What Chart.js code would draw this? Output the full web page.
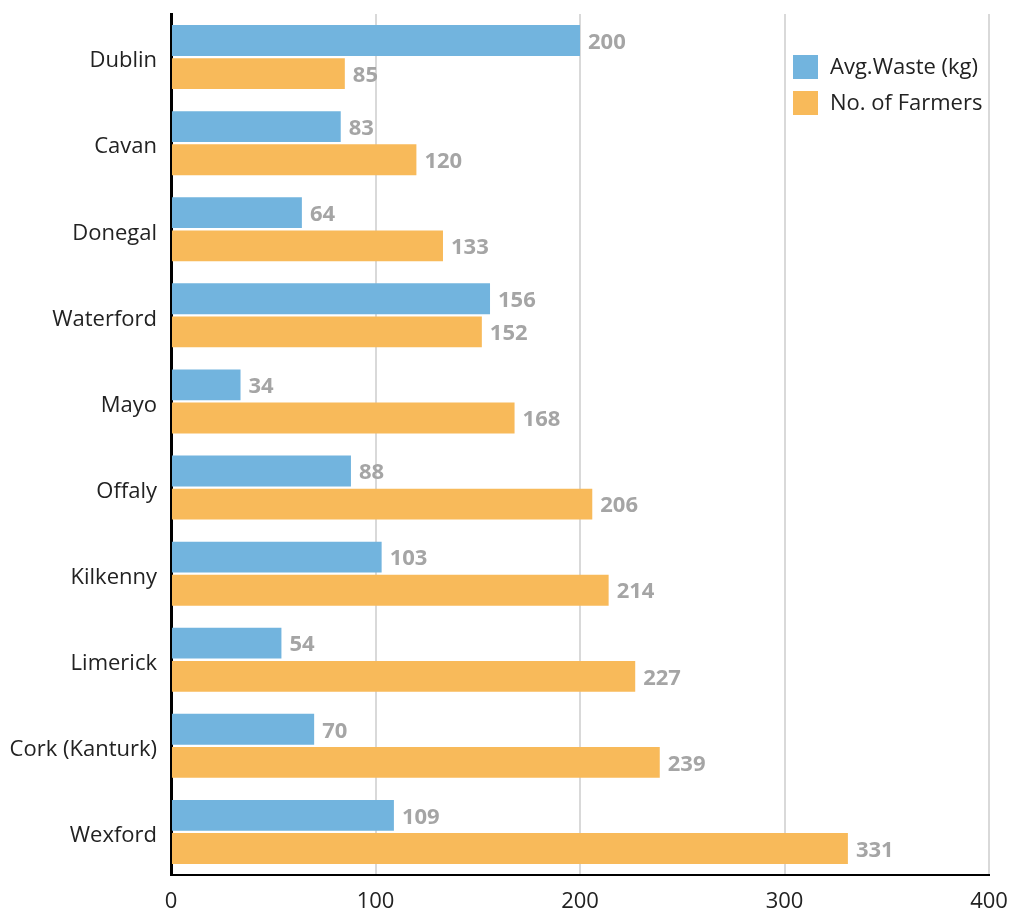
<!DOCTYPE html>
<html>
<head>
<meta charset="utf-8">
<script src="https://cdn.jsdelivr.net/npm/chart.js@4.4.0/dist/chart.umd.min.js"></script>
<style>
    html, body { margin: 0; padding: 0; background: #fff; }
    #chart { display: block; }
</style>
</head>
<body>
<canvas id="chart" width="1009" height="913"></canvas>
<script>
// 数据
const counties = ['Dublin', 'Cavan', 'Donegal', 'Waterford', 'Mayo', 'Offaly', 'Kilkenny', 'Limerick', 'Cork (Kanturk)', 'Wexford'];
const avgWaste = [200, 83, 64, 156, 34, 88, 103, 54, 70, 109];
const farmers = [85, 120, 133, 152, 168, 206, 214, 227, 239, 331];
const xTicks = [0, 100, 200, 300, 400];

const FONT = "'Open Sans', 'Noto Sans', sans-serif";

// 数值标签
const valueLabels = {
    id: 'valueLabels',
    afterDatasetsDraw(chart) {
        const ctx = chart.ctx;
        ctx.save();
        ctx.font = 'bold 22px ' + FONT;
        ctx.fillStyle = '#a5a5a5';
        ctx.textAlign = 'left';
        ctx.textBaseline = 'middle';
        chart.data.datasets.forEach((ds, i) => {
            chart.getDatasetMeta(i).data.forEach((bar, j) => {
                ctx.fillText(String(ds.data[j]), bar.x + 8, bar.y + 2);
            });
        });
        ctx.restore();
    }
};

// 图例（图表内右上角）
const innerLegend = {
    id: 'innerLegend',
    afterDraw(chart) {
        const ctx = chart.ctx;
        const area = chart.chartArea;
        ctx.save();
        ctx.font = '22px ' + FONT;
        ctx.textBaseline = 'middle';
        ctx.textAlign = 'left';
        chart.data.datasets.forEach((ds, i) => {
            const x = area.right - 196;
            const y = area.top + 41 + i * 36;
            ctx.fillStyle = ds.backgroundColor;
            ctx.fillRect(x, y, 25, 24);
            ctx.fillStyle = '#222';
            ctx.fillText(ds.label, x + 37, y + 13);
        });
        ctx.restore();
    }
};

const ctx = document.getElementById('chart').getContext('2d');
new Chart(ctx, {
    type: 'bar',
    data: {
        labels: counties,
        datasets: [{
            label: 'Avg.Waste (kg)',
            data: avgWaste,
            backgroundColor: '#72b4de',
            categoryPercentage: 0.77,
            barPercentage: 0.93
        }, {
            label: 'No. of Farmers',
            data: farmers,
            backgroundColor: '#f8ba5a',
            categoryPercentage: 0.77,
            barPercentage: 0.93
        }]
    },
    options: {
        indexAxis: 'y',
        responsive: false,
        animation: false,
        layout: {
            padding: { top: 14, right: 20, bottom: 0, left: 0 }
        },
        plugins: {
            legend: { display: false },
            tooltip: { enabled: false }
        },
        scales: {
            x: {
                min: 0,
                max: 400,
                afterBuildTicks(scale) {
                    scale.ticks = xTicks.map(v => ({ value: v }));
                },
                afterFit(scale) {
                    scale.height = 38;
                    scale.paddingLeft = 0;
                    scale.paddingRight = 0;
                },
                grid: {
                    color: '#d9d9d9',
                    lineWidth: 2,
                    drawTicks: false
                },
                border: { display: true, color: '#000', width: 2 },
                ticks: {
                    padding: 14,
                    color: '#222',
                    font: { family: FONT, size: 22 }
                }
            },
            y: {
                afterFit(scale) {
                    scale.width = 171;
                    scale.paddingTop = 0;
                    scale.paddingBottom = 0;
                },
                grid: { display: false, drawTicks: false },
                border: { display: true, color: '#000', width: 3 },
                ticks: {
                    padding: 14,
                    labelOffset: 4,
                    color: '#222',
                    font: { family: FONT, size: 22 }
                }
            }
        }
    },
    plugins: [valueLabels, innerLegend]
});
</script>
</body>
</html>
